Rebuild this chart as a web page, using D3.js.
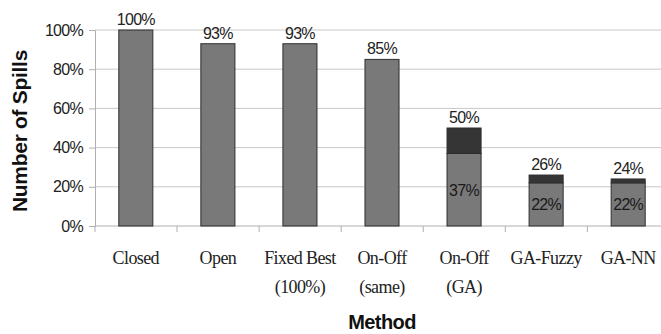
<!DOCTYPE html>
<html>
<head>
<meta charset="utf-8">
<script src="https://cdn.jsdelivr.net/npm/d3@7"></script>
<style>
  body { margin: 0; background: #fff; }
  svg { display: block; }
</style>
</head>
<body>
<script>
// Chart data
let methods = ["Closed", "Open", "Fixed Best\n(100%)", "On-Off\n(same)", "On-Off\n(GA)", "GA-Fuzzy", "GA-NN"];
let lowerValues = [100, 93, 93, 85, 37, 22, 22];
let totalValues = [100, 93, 93, 85, 50, 26, 24];
let yTicks = [0, 20, 40, 60, 80, 100];

let svgWidth = 661;
let svgHeight = 334;

// plot area (runs a little past the right edge, like the original)
let plot = { left: 95, top: 30, right: 669, bottom: 226 };

let svg = d3.select("body")
  .append("svg")
  .attr("width", svgWidth)
  .attr("height", svgHeight);

let xScale = d3.scaleBand()
  .domain(methods)
  .range([plot.left, plot.right])
  .paddingInner(0.585)
  .paddingOuter(0.29);

let yScale = d3.scaleLinear()
  .domain([0, 100])
  .range([plot.bottom, plot.top]);

// gridlines
svg.append("g")
  .selectAll("line")
  .data(yTicks.filter(d => d > 0))
  .enter()
  .append("line")
  .attr("x1", plot.left)
  .attr("x2", plot.right)
  .attr("y1", d => yScale(d))
  .attr("y2", d => yScale(d))
  .attr("stroke", "#c8c8c8")
  .attr("stroke-width", 1);

// y axis
let yAxis = d3.axisLeft(yScale)
  .tickValues(yTicks)
  .tickFormat(d => d + "%")
  .tickSize(6)
  .tickPadding(6);

let yG = svg.append("g")
  .attr("transform", `translate(${plot.left},0)`)
  .call(yAxis);
yG.select(".domain").attr("stroke", "#b0b0b0");
yG.selectAll(".tick line").attr("stroke", "#b0b0b0");
yG.selectAll(".tick text")
  .attr("fill", "#222")
  .style("font-family", "Liberation Sans, Arial, sans-serif")
  .style("font-size", "16px")
  .style("letter-spacing", "-0.7px");

// x axis (ticks between categories)
let step = xScale.step();
let xBounds = d3.range(methods.length + 1).map(i => plot.left + i * step);
svg.append("line")
  .attr("x1", plot.left).attr("x2", plot.right)
  .attr("y1", plot.bottom).attr("y2", plot.bottom)
  .attr("stroke", "#b0b0b0");
svg.append("g")
  .selectAll("line")
  .data(xBounds)
  .enter()
  .append("line")
  .attr("x1", d => d).attr("x2", d => d)
  .attr("y1", plot.bottom).attr("y2", plot.bottom + 6)
  .attr("stroke", "#b0b0b0");

// x labels
let xLabels = svg.append("g")
  .selectAll("text")
  .data(methods)
  .enter()
  .append("text")
  .attr("x", d => xScale(d) + xScale.bandwidth() / 2)
  .attr("y", 264)
  .attr("text-anchor", "middle")
  .attr("fill", "#222")
  .style("font-family", "Liberation Serif, Times New Roman, serif")
  .style("font-size", "18px")
  .style("letter-spacing", "-0.6px");
xLabels.each(function(d) {
  let lines = d.split("\n");
  let t = d3.select(this);
  lines.forEach((line, i) => {
    t.append("tspan")
      .attr("x", xScale(d) + xScale.bandwidth() / 2)
      .attr("dy", i === 0 ? 0 : 29)
      .text(line);
  });
});

// bars: lower segment
svg.append("g")
  .selectAll("rect")
  .data(methods)
  .enter()
  .append("rect")
  .attr("x", d => xScale(d))
  .attr("width", xScale.bandwidth())
  .attr("y", (d, i) => yScale(lowerValues[i]))
  .attr("height", (d, i) => yScale(0) - yScale(lowerValues[i]))
  .attr("fill", "#797979")
  .attr("stroke", "#2e2e2e")
  .attr("stroke-width", 1);

// bars: upper segment
svg.append("g")
  .selectAll("rect")
  .data(methods.filter((d, i) => totalValues[i] > lowerValues[i]))
  .enter()
  .append("rect")
  .attr("x", d => xScale(d))
  .attr("width", xScale.bandwidth())
  .attr("y", d => yScale(totalValues[methods.indexOf(d)]))
  .attr("height", d => {
    let i = methods.indexOf(d);
    return yScale(lowerValues[i]) - yScale(totalValues[i]);
  })
  .attr("fill", "#353535")
  .attr("stroke", "#2e2e2e")
  .attr("stroke-width", 1);

// total labels above bars
svg.append("g")
  .selectAll("text")
  .data(methods)
  .enter()
  .append("text")
  .attr("x", d => xScale(d) + xScale.bandwidth() / 2)
  .attr("y", (d, i) => yScale(totalValues[i]) - 5)
  .attr("text-anchor", "middle")
  .attr("fill", "#222")
  .style("font-family", "Liberation Sans, Arial, sans-serif")
  .style("font-size", "16px")
  .style("letter-spacing", "-0.7px")
  .text((d, i) => totalValues[i] + "%");

// lower segment labels inside stacked bars
svg.append("g")
  .selectAll("text")
  .data(methods.filter((d, i) => totalValues[i] > lowerValues[i]))
  .enter()
  .append("text")
  .attr("x", d => xScale(d) + xScale.bandwidth() / 2)
  .attr("y", d => yScale(lowerValues[methods.indexOf(d)] / 2) + 6)
  .attr("text-anchor", "middle")
  .attr("fill", "#1a1a1a")
  .style("font-family", "Liberation Sans, Arial, sans-serif")
  .style("font-size", "16px")
  .style("letter-spacing", "-0.7px")
  .text(d => lowerValues[methods.indexOf(d)] + "%");

// axis titles
svg.append("text")
  .attr("transform", `translate(27, ${(plot.top + plot.bottom) / 2 + 3}) rotate(-90)`)
  .attr("text-anchor", "middle")
  .attr("fill", "#111")
  .style("font-family", "Liberation Sans, Arial, sans-serif")
  .style("font-weight", "bold")
  .style("font-size", "21px")
  .style("letter-spacing", "-0.3px")
  .text("Number of Spills");

svg.append("text")
  .attr("x", 382)
  .attr("y", 329)
  .attr("text-anchor", "middle")
  .attr("fill", "#111")
  .style("font-family", "Liberation Sans, Arial, sans-serif")
  .style("font-weight", "bold")
  .style("font-size", "20px")
  .style("letter-spacing", "-0.6px")
  .text("Method");
</script>
</body>
</html>
